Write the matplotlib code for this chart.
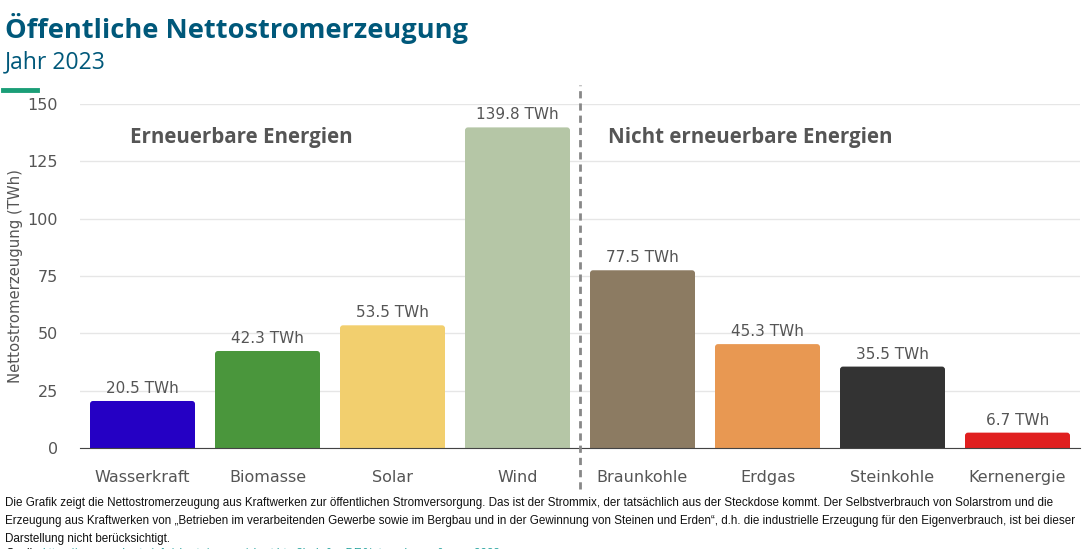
import matplotlib
matplotlib.use("Agg")
import matplotlib.pyplot as plt
from matplotlib.lines import Line2D
from matplotlib.patches import FancyBboxPatch

categories = ["Wasserkraft", "Biomasse", "Solar", "Wind",
              "Braunkohle", "Erdgas", "Steinkohle", "Kernenergie"]
values = [20.5, 42.3, 53.5, 139.8, 77.5, 45.3, 35.5, 6.7]
colors = ["#2500c4", "#4a963c", "#f2cf6e", "#b5c6a6",
          "#8c7b62", "#e89852", "#333333", "#e01f1f"]
yticks = [0, 25, 50, 75, 100, 125, 150]
group_labels = ["Erneuerbare Energien", "Nicht erneuerbare Energien"]

title = "Öffentliche Nettostromerzeugung"
subtitle = "Jahr 2023"
ylabel = "Nettostromerzeugung (TWh)"
footer_lines = [
    "Die Grafik zeigt die Nettostromerzeugung aus Kraftwerken zur öffentlichen Stromversorgung. "
    "Das ist der Strommix, der tatsächlich aus der Steckdose kommt. Der Selbstverbrauch von Solarstrom und die",
    "Erzeugung aus Kraftwerken von „Betrieben im verarbeitenden Gewerbe sowie im Bergbau und in der "
    "Gewinnung von Steinen und Erden“, d.h. die industrielle Erzeugung für den Eigenverbrauch, ist bei dieser",
    "Darstellung nicht berücksichtigt.",
]
source_label = "Quelle:"
source_url = "https://energy-charts.info/charts/energy/chart.htm?l=de&c=DE&interval=year&year=2023"

plt.rcParams['font.family'] = ['DejaVu Sans']

fig = plt.figure(figsize=(10.83, 5.49), dpi=100)
ax = fig.add_axes([80/1083, 1-448/549, 1000/1083, 344/549])

x = list(range(len(categories)))
bars = ax.bar(x, values, width=0.84, color=colors, zorder=3)
ax.set_xlim(-0.5, 7.5)
ax.set_ylim(0, 150)

# rounded-corner versions of the bars (same geometry)
px_x = 1000 / 8.0     # pixels per x unit
px_y = 344 / 150.0    # pixels per y unit
for b, c in zip(bars, colors):
    b.set_visible(False)
    r = 3.0 / px_x
    p = FancyBboxPatch((b.get_x(), -3), b.get_width(), b.get_height() + 3,
                       boxstyle=f"round,pad=0,rounding_size={r}",
                       mutation_aspect=px_x / px_y,
                       facecolor=c, edgecolor="none", zorder=3)
    ax.add_patch(p)

for b, v in zip(bars, values):
    ax.text(b.get_x() + b.get_width()/2, v + 2.2, f"{v:.1f} TWh",
            ha="center", va="bottom", fontsize=11, color="#555555")

ax.set_yticks(yticks)
ax.set_xticks(x)
ax.set_xticklabels(categories)
ax.tick_params(axis="both", length=0, labelsize=11.5, labelcolor="#555555")
ax.tick_params(axis="x", pad=16)
ax.tick_params(axis="y", pad=16)
ax.grid(axis="y", color="#e6e6e6", linewidth=1, zorder=0)
for s in ["top", "right", "left"]:
    ax.spines[s].set_visible(False)
ax.spines["bottom"].set_color("#444444")
ax.spines["bottom"].set_zorder(4)
ax.set_ylabel(ylabel, fontsize=10.7, color="#555555", labelpad=3)

# separator
ax.add_line(Line2D([3.5, 3.5], [-0.12, 1.055], transform=ax.get_xaxis_transform(),
                   color="#888888", linestyle=(0, (2.6, 1.8)), linewidth=2,
                   clip_on=False, zorder=5))

ax.text(0.79, 135.5, group_labels[0], ha="center", va="center", fontsize=14.8,
        fontweight="bold", color="#555555", family=['Open Sans', 'DejaVu Sans'])
ax.text(4.86, 135.5, group_labels[1], ha="center", va="center", fontsize=14.8,
        fontweight="bold", color="#555555", family=['Open Sans', 'DejaVu Sans'])

fig.text(5/1083, 1-28/549, title, ha="left", va="center", fontsize=19.6,
         fontweight="bold", color="#00587a", family=['Open Sans', 'DejaVu Sans'])
fig.text(5/1083, 1-62/549, subtitle, ha="left", va="center", fontsize=16.5,
         color="#00587a", family=['Open Sans', 'DejaVu Sans'])
fig.add_artist(Line2D([3/1083, 37/1083], [1-90/549, 1-90/549], color="#1a9e77",
                      linewidth=3.5, transform=fig.transFigure))

ffam = ['Liberation Sans', 'DejaVu Sans']
for i, line in enumerate(footer_lines):
    fig.text(5/1083, 1-(503 + 18*i)/549, line, ha="left", va="center", fontsize=8.4,
             color="#111111", family=ffam)
fig.text(5/1083, 1-554/549, source_label, ha="left", va="center", fontsize=8.4,
         color="#111111", family=ffam)
fig.text(42/1083, 1-554/549, source_url, ha="left", va="center", fontsize=8.4,
         color="#2aa5a0", family=ffam)

fig.savefig("out.png", dpi=100)
